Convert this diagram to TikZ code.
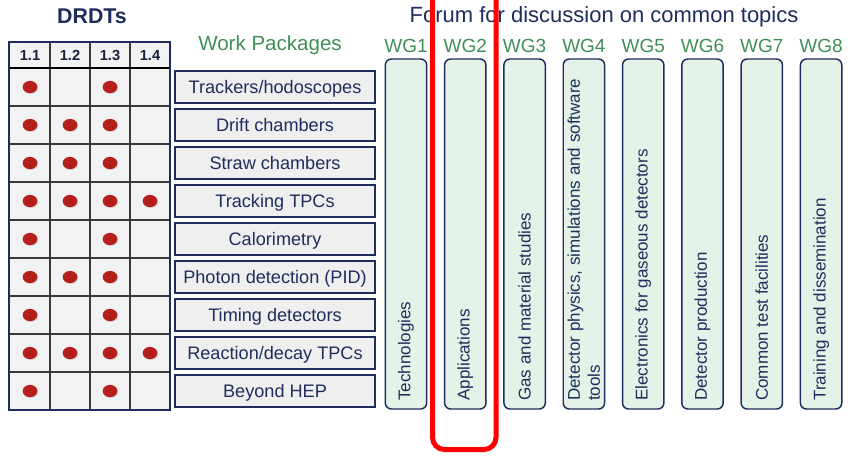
\documentclass[tikz,border=0pt]{standalone}
\usepackage{fontspec}
\setmainfont{Liberation Sans}
\usetikzlibrary{shadows,shapes.geometric}
\definecolor{navy}{HTML}{1F2D5E}
\definecolor{hdrtext}{HTML}{1A1F40}
\definecolor{wgreen}{HTML}{3F8E57}
\definecolor{dotred}{HTML}{B51F1A}
\definecolor{tablegrey}{HTML}{F2F2F2}
\definecolor{gridgrey}{HTML}{3A3A3A}
\definecolor{wpfill}{HTML}{EFEFEF}
\definecolor{wgfill}{HTML}{E5F2E8}
\definecolor{hlred}{HTML}{FF0000}
\begin{document}
\begin{tikzpicture}[x=0.75pt,y=-0.75pt,
  wpbox/.style={draw=navy, line width=1.5pt, fill=wpfill, minimum width=150pt,
    minimum height=24pt, inner sep=0pt, text=navy, text height=9.7pt, text depth=0pt,
    font=\fontsize{13.6pt}{16pt}\selectfont,
    drop shadow={shadow xshift=1pt, shadow yshift=-1pt, opacity=0.3}},
  wgbox/.style={draw=navy, line width=1.1pt, fill=wgfill, rounded corners=4.5pt,
    minimum width=31pt, minimum height=262.5pt, inner sep=0pt},
  wglabel/.style={anchor=base, text=wgreen, inner sep=0pt,
    font=\fontsize{14.25pt}{17pt}\selectfont},
  wgtext/.style={rotate=90, anchor=west, inner sep=0pt, text=navy, align=left,
    font=\fontsize{12.75pt}{15pt}\selectfont},
  dot/.style={ellipse, fill=dotred, minimum width=11pt, minimum height=9.2pt,
    inner sep=0pt, drop shadow={shadow xshift=0.6pt, shadow yshift=-0.6pt, opacity=0.3}},
  hdr/.style={anchor=base, inner sep=0pt, text=hdrtext,
    font=\fontsize{11pt}{13pt}\selectfont\bfseries},
  gridline/.style={draw=gridgrey, line width=1pt}
]
\useasboundingbox (0,0) rectangle (848,455);

% titles
\node[anchor=base, inner sep=0pt, text=navy, font=\fontsize{16pt}{19pt}\selectfont\bfseries] (drdt) at (92,23) {DRDTs};
\node[anchor=base, inner sep=0pt, text=wgreen, font=\fontsize{15.4pt}{18pt}\selectfont] (wptitle) at (270,50) {Work Packages};
\node[anchor=base, inner sep=0pt, text=navy, font=\fontsize{16.5pt}{19pt}\selectfont] (forum) at (604,22) {Forum for discussion on common topics};

% table
\fill[tablegrey] (9,42) rectangle (170,410);
\foreach \x in {50,90,130} \draw[gridline] (\x,42) -- (\x,410);
\foreach \k in {1,...,8} \draw[gridline] (9,68+38*\k) -- (170,68+38*\k);
\draw[black, line width=1.6pt] (9,68) -- (170,68);
\draw[navy, line width=2pt] (9,42) rectangle (170,410);

\node[hdr] (h1) at (30,60) {1.1};
\node[hdr] (h2) at (70,60) {1.2};
\node[hdr] (h3) at (110,60) {1.3};
\node[hdr] (h4) at (150,60) {1.4};

% dots: row / columns
\foreach \r/\cols in {1/{1,3}, 2/{1,2,3}, 3/{1,2,3}, 4/{1,2,3,4}, 5/{1,3},
                      6/{1,2,3}, 7/{1,3}, 8/{1,2,3,4}, 9/{1,3}} {
  \foreach \c in \cols {
    \node[dot] (d-\r-\c) at (-10+40*\c, 49+38*\r) {};
  }
}

% work packages
\node[wpbox] (wp1) at (275,87) {Trackers/hodoscopes};
\node[wpbox] (wp2) at (275,125) {Drift chambers};
\node[wpbox] (wp3) at (275,163) {Straw chambers};
\node[wpbox] (wp4) at (275,201) {Tracking TPCs};
\node[wpbox] (wp5) at (275,239) {Calorimetry};
\node[wpbox] (wp6) at (275,277) {Photon detection (PID)};
\node[wpbox] (wp7) at (275,315) {Timing detectors};
\node[wpbox] (wp8) at (275,353) {Reaction/decay TPCs};
\node[wpbox] (wp9) at (275,391) {Beyond HEP};

% working groups
\foreach \i/\txt in {1/{Technologies}, 2/{Applications}, 3/{Gas and material studies},
   4/{Detector physics, simulations and software\\tools},
   5/{Electronics for gaseous detectors}, 6/{Detector production},
   7/{Common test facilities}, 8/{Training and dissemination}} {
  \pgfmathsetmacro{\cx}{406+59.3*(\i-1)}
  \node[wgbox] (wg\i box) at (\cx,234) {};
  \node[wglabel] (wg\i lab) at (\cx,52) {WG\i};
  \node[wgtext] (wg\i txt) at (\cx,401) {\txt};
}

% highlight
\draw[hlred, line width=3.75pt, rounded corners=9pt]
  (432.5,-10) -- (432.5,449.5) -- (496,449.5) -- (496,-10);
\end{tikzpicture}
\end{document}
